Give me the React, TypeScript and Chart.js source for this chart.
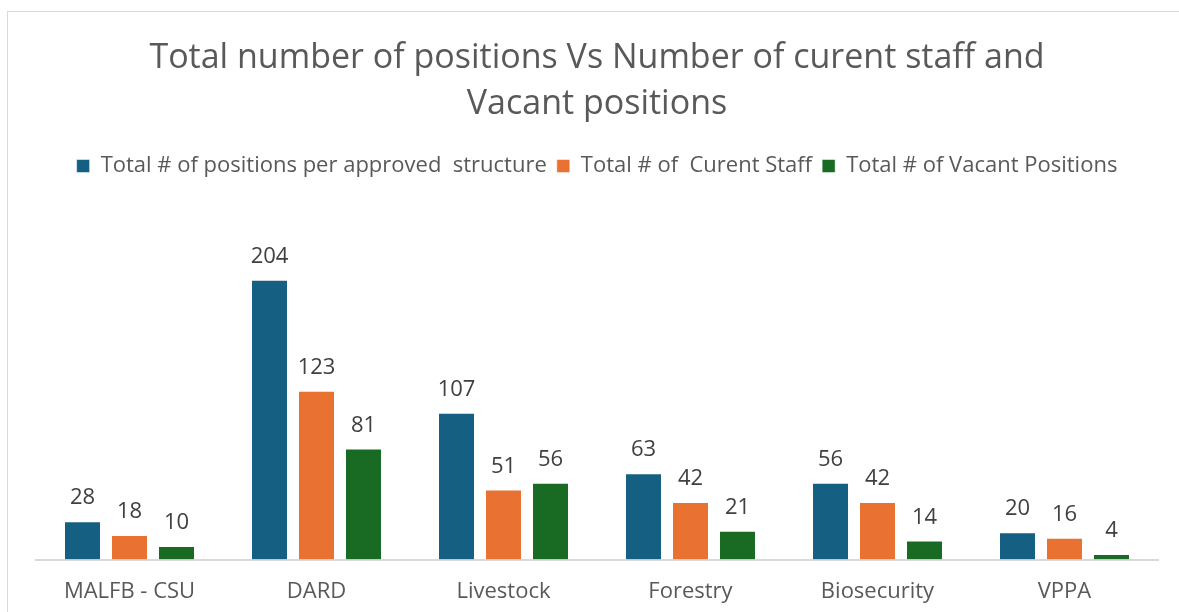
import React, { useEffect, useRef } from "react";
import { Chart, registerables } from "chart.js";

Chart.register(...registerables);

const categories = ["MALFB - CSU", "DARD", "Livestock", "Forestry", "Biosecurity", "VPPA"];
const totalPositions = [28, 204, 107, 63, 56, 20];
const currentStaff = [18, 123, 51, 42, 42, 16];
const vacantPositions = [10, 81, 56, 21, 14, 4];
const seriesNames = [
  "Total # of positions per approved  structure",
  "Total # of  Curent Staff",
  "Total # of Vacant Positions",
];
const titleLines = ["Total number of positions Vs Number of curent staff and", "Vacant positions"];

const FONT = "'Open Sans', sans-serif";

const valueLabels = {
  id: "valueLabels",
  afterDatasetsDraw(chart: any) {
    const ctx = chart.ctx;
    ctx.save();
    ctx.font = `22px ${FONT}`;
    ctx.fillStyle = "#404040";
    ctx.textAlign = "center";
    ctx.textBaseline = "bottom";
    chart.data.datasets.forEach((ds: any, i: number) => {
      const meta = chart.getDatasetMeta(i);
      meta.data.forEach((bar: any, j: number) => {
        ctx.fillText(String(ds.data[j]), bar.x, bar.y - 12);
      });
    });
    ctx.restore();
  },
};

export default function App() {
  const ref = useRef<HTMLCanvasElement>(null);
  useEffect(() => {
    document.body.style.margin = "0";
    const c = new Chart(ref.current!, {
      type: "bar",
      data: {
        labels: categories,
        datasets: [
          { label: seriesNames[0], data: totalPositions, backgroundColor: "#156082" },
          { label: seriesNames[1], data: currentStaff, backgroundColor: "#E97132" },
          { label: seriesNames[2], data: vacantPositions, backgroundColor: "#196B24" },
        ].map((d) => ({
          ...d,
          borderColor: "rgba(255,255,255,0.5)",
          borderWidth: 1,
          categoryPercentage: 0.754,
          barPercentage: 0.787,
        })),
      },
      options: {
        animation: false,
        responsive: false,
        layout: { padding: { left: 36, right: 21, bottom: -12, top: 0 } },
        plugins: {
          title: {
            display: true,
            text: titleLines,
            font: { family: FONT, size: 34, weight: "normal" as any, lineHeight: 1.353 },
            color: "#595959",
            padding: { top: 35, bottom: 18 },
          },
          legend: {
            position: "top",
            labels: {
              font: { family: FONT, size: 22 },
              color: "#595959",
              boxWidth: 13,
              boxHeight: 13,
              padding: 10,
            },
          },
          tooltip: { enabled: false },
        },
        scales: {
          x: {
            grid: { display: false, drawTicks: false },
            border: { display: true, color: "#d9d9d9", width: 2 },
            ticks: { font: { family: FONT, size: 22 }, color: "#595959", padding: 19 },
          },
          y: { display: false, min: 0, max: 271.5 },
        },
      },
      plugins: [valueLabels],
    });
    return () => c.destroy();
  }, []);
  return (
    <div style={{ position: "relative", width: 1179, height: 612, overflow: "hidden", background: "#fff" }}>
      <div
        style={{
          position: "absolute",
          left: 7,
          top: 11,
          width: 1300,
          height: 700,
          border: "1px solid #d9d9d9",
          boxSizing: "border-box",
        }}
      />
      <canvas ref={ref} width={1179} height={612} style={{ position: "absolute", left: 0, top: 0 }} />
    </div>
  );
}
